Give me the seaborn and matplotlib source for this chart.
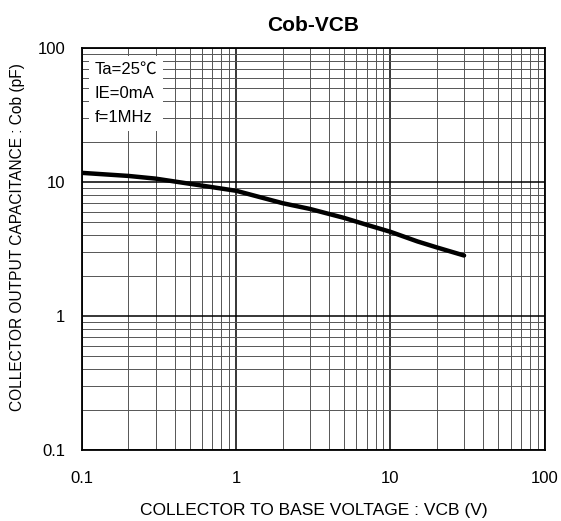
import numpy as np
import pandas as pd
import matplotlib
matplotlib.use("Agg")
import matplotlib.pyplot as plt
import seaborn as sns

sns.set_style("white")
plt.rcParams['font.family'] = ['Liberation Sans', 'Noto Sans CJK JP', 'DejaVu Sans']
plt.rcParams['text.color'] = 'black'
plt.rcParams['axes.labelcolor'] = 'black'
plt.rcParams['xtick.color'] = 'black'
plt.rcParams['ytick.color'] = 'black'

# data
vcb = [0.1, 0.2, 0.3, 0.5, 1, 2, 3, 5, 7, 10, 15, 20, 30]
cob = [11.7, 11.1, 10.6, 9.7, 8.6, 6.95, 6.3, 5.4, 4.8, 4.25, 3.6, 3.25, 2.83]
x_ticks = [0.1, 1, 10, 100]
x_labels = ["0.1", "1", "10", "100"]
y_ticks = [0.1, 1, 10, 100]
y_labels = ["0.1", "1", "10", "100"]
conditions = ["Ta=25℃", "IE=0mA", "f=1MHz"]

df = pd.DataFrame({"VCB": vcb, "Cob": cob})

fig = plt.figure(figsize=(5.61, 5.21), dpi=100)
ax = fig.add_axes([0.146, 0.136, 0.825, 0.772])
ax.set_xscale("log")
ax.set_yscale("log")
ax.set_xlim(0.1, 100)
ax.set_ylim(0.1, 100)

ax.grid(True, which="major", color="black", lw=1.1, zorder=0)
ax.grid(True, which="minor", color="#555555", lw=0.7, zorder=0)

sns.lineplot(data=df, x="VCB", y="Cob", color="black", lw=3.2, ax=ax, zorder=3)

ax.set_xticks(x_ticks)
ax.set_xticklabels(x_labels)
ax.set_yticks(y_ticks)
ax.set_yticklabels(y_labels)
ax.tick_params(axis="x", which="both", length=0, labelsize=12, pad=15)
ax.tick_params(axis="y", which="both", length=0, labelsize=12, pad=12)
for s in ax.spines.values():
    s.set_color("black")
    s.set_linewidth(1.3)

ax.set_xlabel("COLLECTOR TO BASE VOLTAGE : VCB (V)", fontsize=12.5, labelpad=12)
ax.set_ylabel("COLLECTOR OUTPUT CAPACITANCE : Cob (pF)", fontsize=11.2)
ax.yaxis.set_label_coords(-0.122, 0.53)
ax.set_title("Cob-VCB", fontsize=15, fontweight="bold", pad=12)

ax.text(0.028, 0.965, "\n".join(conditions), transform=ax.transAxes, va="top", ha="left",
        fontsize=12, linespacing=1.75, zorder=4,
        bbox=dict(facecolor="white", edgecolor="none", boxstyle="square,pad=0.35"))

fig.savefig("out.png", dpi=100)
